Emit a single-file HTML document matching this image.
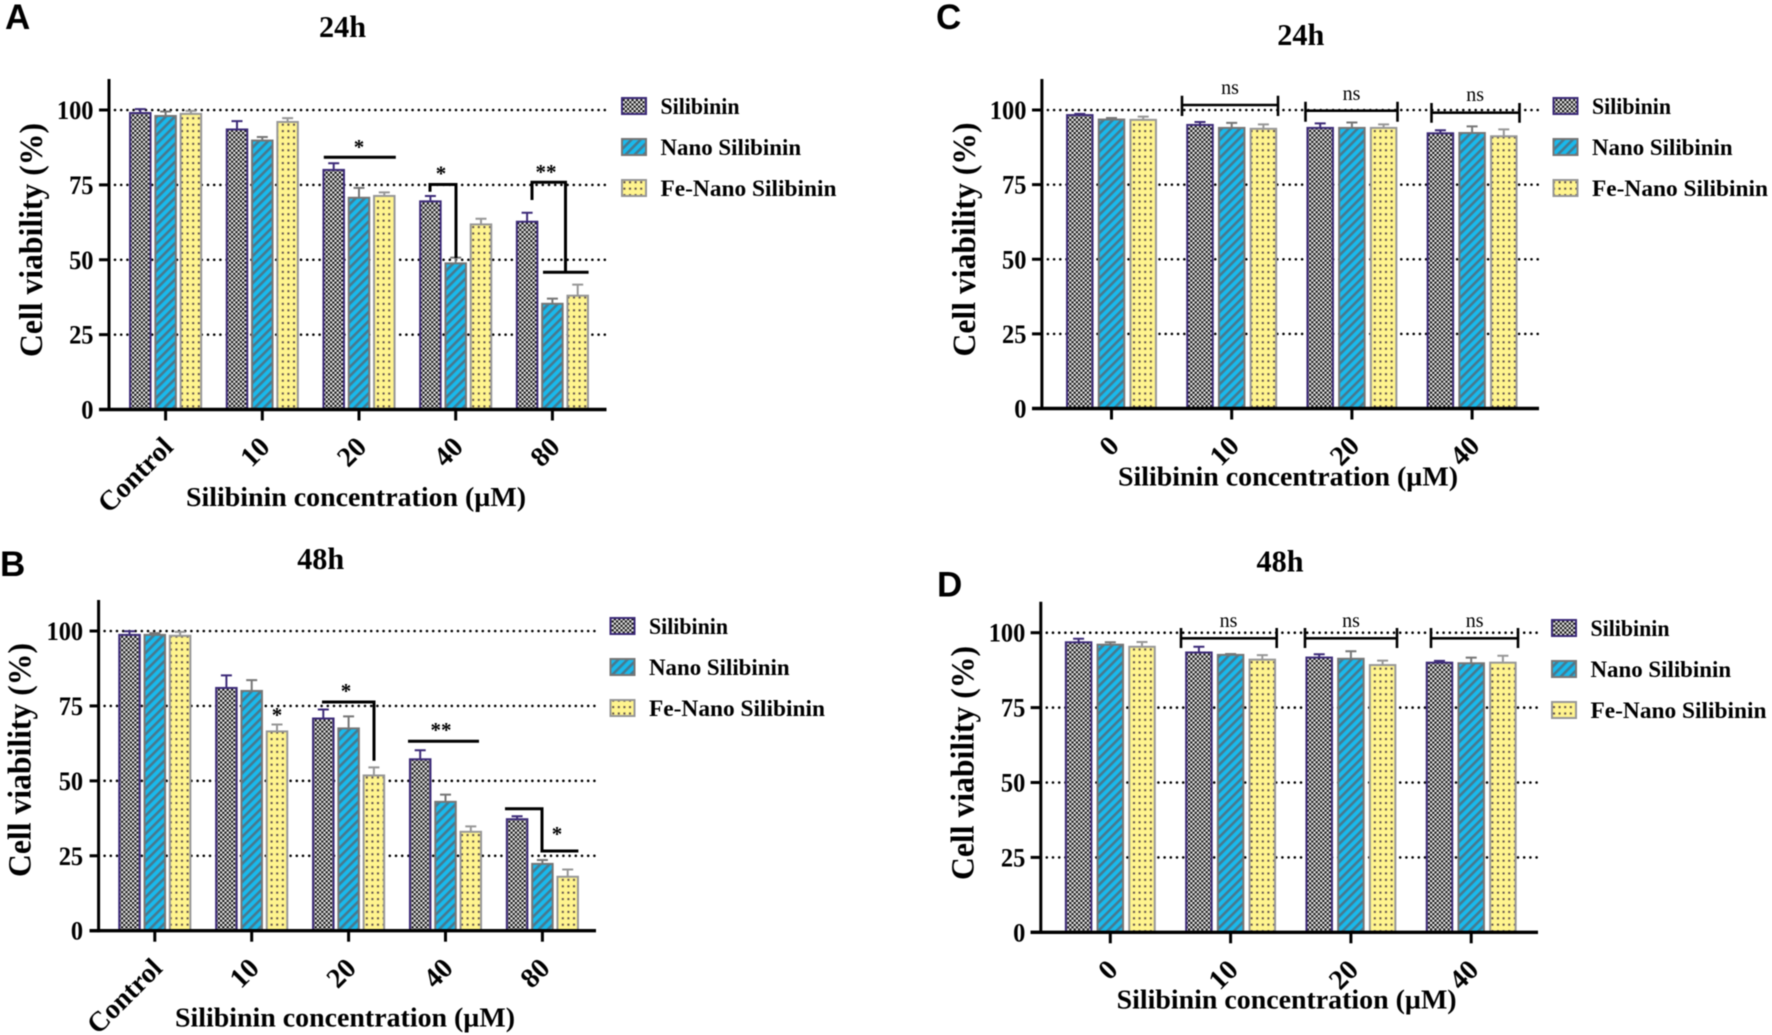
<!DOCTYPE html>
<html lang="en">
<head>
<meta charset="utf-8">
<title>Cell viability panels</title>
<style>
html,body{margin:0;padding:0;background:#fff;width:1772px;height:1035px;overflow:hidden}
svg{display:block;filter:blur(0.4px)}
text{font-family:"Liberation Serif",serif;font-weight:bold;fill:#000}
.letter{font-family:"Liberation Sans",sans-serif;font-size:35px}
.title{font-size:31px;text-anchor:middle}
.xt{font-size:27px;text-anchor:middle}
.yt{font-size:33px;text-anchor:middle}
.star{font-size:21px;text-anchor:middle}
.ns{font-size:20px;font-weight:normal;text-anchor:middle}
.sig{stroke:#000;stroke-width:3;fill:none}
.sign{stroke:#000;stroke-width:2.6;fill:none}
</style>
</head>
<body>
<svg id="figure" xmlns="http://www.w3.org/2000/svg" width="1772" height="1035" viewBox="0 0 1772 1035">
<defs>
<pattern id="pat-check" patternUnits="userSpaceOnUse" width="4.4" height="4.4">
<rect width="4.4" height="4.4" fill="#f2f2f2"/>
<rect width="2.2" height="2.2" fill="#111"/>
<rect x="2.2" y="2.2" width="2.2" height="2.2" fill="#111"/>
</pattern>
<pattern id="pat-stripe" patternUnits="userSpaceOnUse" width="6.4" height="6.4" patternTransform="rotate(45)">
<rect width="6.4" height="6.4" fill="#19b9ec"/>
<rect width="2.6" height="6.4" fill="#47798f"/>
</pattern>
<pattern id="pat-dot" patternUnits="userSpaceOnUse" width="5.6" height="6.4">
<rect width="5.6" height="6.4" fill="#fff48e"/>
<rect x="1.8" y="2.1" width="2" height="2" fill="#5a4a4a"/>
</pattern>
</defs>

<g>
<text class="letter" x="5" y="29">A</text>
<text class="title" x="342.5" y="37" textLength="47" lengthAdjust="spacingAndGlyphs">24h</text>
<text class="yt" transform="translate(42,240) rotate(-90)" textLength="234" lengthAdjust="spacingAndGlyphs">Cell viability (%)</text>
<text class="xt" x="356" y="506" textLength="340" lengthAdjust="spacingAndGlyphs">Silibinin concentration (µM)</text>
</g>
<g>
<text class="letter" x="0" y="576">B</text>
<text class="title" x="320.7" y="569" textLength="47" lengthAdjust="spacingAndGlyphs">48h</text>
<text class="yt" transform="translate(30.5,760) rotate(-90)" textLength="234" lengthAdjust="spacingAndGlyphs">Cell viability (%)</text>
<text class="xt" x="345" y="1026.5" textLength="340" lengthAdjust="spacingAndGlyphs">Silibinin concentration (µM)</text>
</g>
<g>
<text class="letter" x="936" y="29">C</text>
<text class="title" x="1300.8" y="45" textLength="47" lengthAdjust="spacingAndGlyphs">24h</text>
<text class="yt" transform="translate(975,239.5) rotate(-90)" textLength="234" lengthAdjust="spacingAndGlyphs">Cell viability (%)</text>
<text class="xt" x="1288" y="485.5" textLength="340" lengthAdjust="spacingAndGlyphs">Silibinin concentration (µM)</text>
</g>
<g>
<text class="letter" x="937" y="596.7">D</text>
<text class="title" x="1280" y="571.7" textLength="47" lengthAdjust="spacingAndGlyphs">48h</text>
<text class="yt" transform="translate(973.5,763) rotate(-90)" textLength="234" lengthAdjust="spacingAndGlyphs">Cell viability (%)</text>
<text class="xt" x="1286.6" y="1008.5" textLength="340" lengthAdjust="spacingAndGlyphs">Silibinin concentration (µM)</text>
</g>

<g id="charts"></g>

<g>
<path class="sig" d="M323.8 157.3H395.8"/>
<text class="star" x="359" y="154">*</text>
<path class="sig" d="M430 191.7V184.5H456V258"/>
<text class="star" x="441" y="180.5">*</text>
<path class="sig" d="M532 200V182.3H565.5V272"/>
<path class="sig" d="M543 272.3H588.6"/>
<text class="star" x="546" y="179">**</text>
</g>
<g>
<text class="star" x="277" y="722">*</text>
<path class="sig" d="M322 702H374V760.7"/>
<text class="star" x="346" y="698">*</text>
<path class="sig" d="M408 741.3H479"/>
<text class="star" x="441" y="737">**</text>
<path class="sig" d="M505 808.7H542V851H578.4"/>
<text class="star" x="557" y="841">*</text>
</g>
<g>
<path class="sign" d="M1182 95.7V116M1182 105H1278M1278 95.7V116"/>
<text class="ns" x="1230" y="94">ns</text>
<path class="sign" d="M1305.5 101.7V121.7M1305.5 110.7H1397.5M1397.5 101.7V121.7"/>
<text class="ns" x="1351.5" y="100">ns</text>
<path class="sign" d="M1431.5 103V122.7M1431.5 112.7H1519.5M1519.5 103V122.7"/>
<text class="ns" x="1475.2" y="101">ns</text>
</g>
<g>
<path class="sign" d="M1181 628V648M1181 638.3H1276.7M1276.7 628V648"/>
<text class="ns" x="1228.5" y="627">ns</text>
<path class="sign" d="M1305 628V648M1305 638.3H1397M1397 628V648"/>
<text class="ns" x="1351" y="627">ns</text>
<path class="sign" d="M1431 628V648M1431 638.3H1518M1518 628V648"/>
<text class="ns" x="1474.6" y="627">ns</text>
</g>
</svg>

<script>
// Shared labels
const yTickValues = [0, 25, 50, 75, 100];
const seriesNames = ['Silibinin', 'Nano Silibinin', 'Fe-Nano Silibinin'];
const categories5 = ['Control', '10', '20', '40', '80'];
const categories4 = ['0', '10', '20', '40'];

// Panel A (24h)
const silibininA = [99, 93.5, 80, 69.5, 62.7];
const silibininUpperA = [100.3, 96.3, 82.2, 71.3, 65.7];
const nanoA = [98, 89.8, 70.7, 48.8, 35.3];
const nanoUpperA = [99.5, 91, 74, 50.7, 37];
const feA = [98.7, 96, 71.3, 61.8, 38];
const feUpperA = [99.7, 97.3, 72.5, 63.7, 41.7];

// Panel B (48h)
const silibininB = [98.7, 81, 70.8, 57.2, 37.2];
const silibininUpperB = [99.9, 85.2, 73.8, 60.2, 38.2];
const nanoB = [98.7, 80, 67.5, 43, 22.3];
const nanoUpperB = [99.3, 83.6, 71.5, 45.4, 23.6];
const feB = [98.4, 66.5, 51.8, 33, 18];
const feUpperB = [99.7, 68.8, 54.5, 34.8, 20.4];

// Panel C (24h)
const silibininC = [98.3, 95, 94, 92.2];
const silibininUpperC = [98.7, 96, 95.5, 93.2];
const nanoC = [96.8, 94, 94, 92.3];
const nanoUpperC = [97.3, 95.7, 95.8, 94.5];
const feC = [96.7, 93.7, 94, 91.2];
const feUpperC = [97.8, 95.2, 95.2, 93.5];

// Panel D (48h)
const silibininD = [96.8, 93.4, 91.7, 90];
const silibininUpperD = [98, 95.3, 92.8, 90.6];
const nanoD = [96, 92.6, 91.3, 89.8];
const nanoUpperD = [96.8, 92.9, 93.8, 91.7];
const feD = [95.3, 91, 89.2, 90];
const feUpperD = [96.9, 92.5, 90.7, 92.3];

const NS = 'http://www.w3.org/2000/svg';
const root = document.getElementById('charts');
const fills = ['url(#pat-check)', 'url(#pat-stripe)', 'url(#pat-dot)'];
const borders = ['#3c2a78', '#767676', '#979797'];
const seriesKeys = ['silibinin', 'nano', 'fe-nano'];

function make(tag, attrs, parent, text) {
  const node = document.createElementNS(NS, tag);
  for (const k in attrs) node.setAttribute(k, attrs[k]);
  if (text !== undefined) node.textContent = text;
  parent.appendChild(node);
  return node;
}

function drawPanel(id, g, cats, values, uppers) {
  const panel = make('g', {}, root);
  
  
  const yScale = v => g.y0 + (g.y100 - g.y0) * v / 100;
  const xScale = i => g.x0 + g.step * i;

  // gridlines
  yTickValues.filter(v => v > 0).forEach(v => {
    const grid = make('line', {x1: g.axisX + 6, x2: g.xEnd, y1: yScale(v), y2: yScale(v), stroke: '#000', 'stroke-width': 2.6, 'stroke-linecap': 'round', 'stroke-dasharray': '0 6.2'}, panel);
    
    
  });

  // bars and error bars
  values.forEach((series, s) => {
    series.forEach((val, i) => {
      const cx = xScale(i) + (s - 1) * g.offset;
      const top = yScale(val);
      const upper = yScale(uppers[s][i]);
      const err = make('path', {d: 'M' + cx + ' ' + top + 'V' + upper + 'M' + (cx - 5.5) + ' ' + upper + 'H' + (cx + 5.5), stroke: borders[s], 'stroke-width': 2, fill: 'none'}, panel);
      
      
      const bar = make('rect', {x: cx - g.barW / 2, y: top, width: g.barW, height: g.y0 - top, fill: fills[s], stroke: borders[s], 'stroke-width': 2}, panel);
      
      
    });
  });

  // y axis
  const yAxis = make('line', {x1: g.axisX, x2: g.axisX, y1: g.axisTop, y2: g.y0 + 1.5, stroke: '#000', 'stroke-width': 3}, panel);
  
  
  yTickValues.forEach(v => {
    const tick = make('line', {x1: g.xStart, x2: g.axisX, y1: yScale(v), y2: yScale(v), stroke: '#000', 'stroke-width': 3}, panel);
    
    
    const lab = make('text', {x: g.axisX - 15.5, y: yScale(v) + 9, 'text-anchor': 'end', 'font-size': 26, textLength: String(v).length * 12.2, lengthAdjust: 'spacingAndGlyphs'}, panel, String(v));
    
    
  });

  // x axis
  const xAxis = make('line', {x1: g.xStart, x2: g.xEnd, y1: g.y0, y2: g.y0, stroke: '#000', 'stroke-width': 3.4}, panel);
  
  
  cats.forEach((c, i) => {
    const x = xScale(i);
    const tick = make('line', {x1: x, x2: x, y1: g.y0, y2: g.y0 + 11, stroke: '#000', 'stroke-width': 3}, panel);
    
    
    const lab = make('text', {transform: 'translate(' + (x + 9) + ',' + (g.y0 + 39) + ') rotate(-45)', 'text-anchor': 'end', 'font-size': 28}, panel, c);
    
    
  });

  // legend
  seriesNames.forEach((name, s) => {
    const item = make('g', {}, panel);
    
    
    const top = g.legY + s * g.legStep;
    const sw = make('rect', {x: g.legX, y: top, width: 24, height: 16, fill: fills[s], stroke: borders[s], 'stroke-width': 2}, item);
    
    
    const widths = [79, 140.6, 176];
    const t = make('text', {x: g.legX + 38.5, y: top + 16, 'font-size': 23, textLength: widths[s], lengthAdjust: 'spacingAndGlyphs'}, item, name);
    
    
  });
}

drawPanel('a', {axisX: 109, axisTop: 79, y0: 409.5, y100: 110, xStart: 99, xEnd: 606.5, x0: 165.6, step: 96.7, offset: 25.3, barW: 20.5, legX: 622, legY: 98, legStep: 41},
  categories5, [silibininA, nanoA, feA], [silibininUpperA, nanoUpperA, feUpperA]);
drawPanel('b', {axisX: 98.6, axisTop: 600, y0: 930.7, y100: 631, xStart: 89.6, xEnd: 596, x0: 154.8, step: 96.9, offset: 25.3, barW: 20.5, legX: 610.5, legY: 618, legStep: 41},
  categories5, [silibininB, nanoB, feB], [silibininUpperB, nanoUpperB, feUpperB]);
drawPanel('c', {axisX: 1041.9, axisTop: 79, y0: 408.5, y100: 110, xStart: 1032, xEnd: 1539, x0: 1111.5, step: 120.2, offset: 31.7, barW: 25.5, legX: 1553.5, legY: 98, legStep: 41},
  categories4, [silibininC, nanoC, feC], [silibininUpperC, nanoUpperC, feUpperC]);
drawPanel('d', {axisX: 1040.8, axisTop: 601.7, y0: 932.3, y100: 632.7, xStart: 1030.6, xEnd: 1538, x0: 1110.3, step: 120.3, offset: 31.7, barW: 25.5, legX: 1552, legY: 620, legStep: 41},
  categories4, [silibininD, nanoD, feD], [silibininUpperD, nanoUpperD, feUpperD]);
</script>
</body>
</html>
